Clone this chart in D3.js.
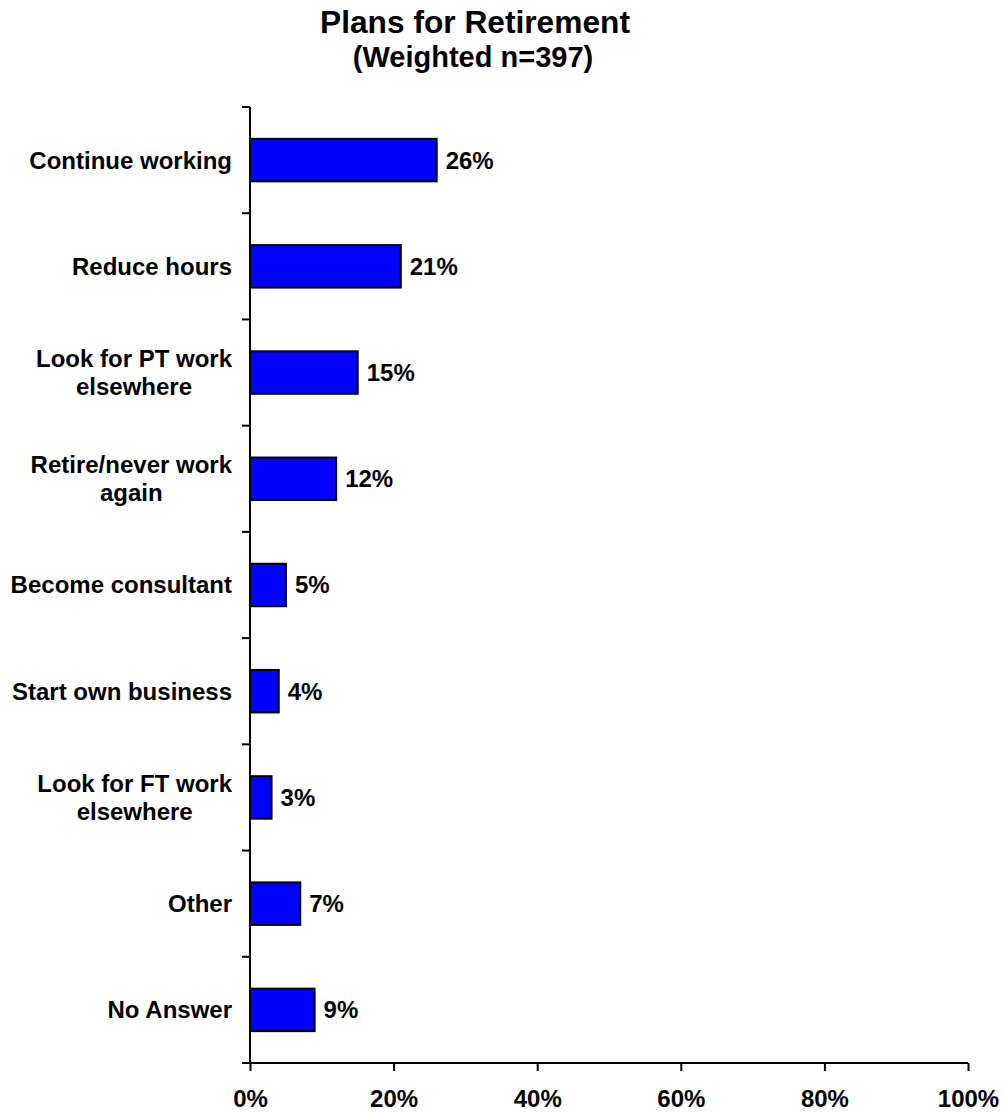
<!DOCTYPE html>
<html>
<head>
<meta charset="utf-8">
<script src="https://cdn.jsdelivr.net/npm/d3@7"></script>
<style>
  body { margin: 0; background: #fff; }
  text { font-family: "Liberation Sans", Arial, sans-serif; font-weight: bold; fill: #000; }
</style>
</head>
<body>
<div id="chart"></div>
<script>
// chart data
const categories = [
    ["Continue working"],
    ["Reduce hours"],
    ["Look for PT work", "elsewhere"],
    ["Retire/never work", "again"],
    ["Become consultant"],
    ["Start own business"],
    ["Look for FT work", "elsewhere"],
    ["Other"],
    ["No Answer"]
];
const values = [26, 21, 15, 12, 5, 4, 3, 7, 9];
const xTicks = [0, 20, 40, 60, 80, 100];

const width = 1003, height = 1112;
const margin = {top: 107, right: 35, bottom: 49, left: 250};

let svg = d3.select("#chart").append("svg")
    .attr("width", width)
    .attr("height", height);

// title
svg.append("text")
    .attr("x", 475).attr("y", 33)
    .attr("text-anchor", "middle")
    .style("font-size", "31.7px")
    .text("Plans for Retirement");
svg.append("text")
    .attr("x", 473).attr("y", 67)
    .attr("text-anchor", "middle")
    .style("font-size", "29px")
    .text("(Weighted n=397)");

let x = d3.scaleLinear()
    .domain([0, 100])
    .range([margin.left, width - margin.right]);

let y = d3.scaleBand()
    .domain(d3.range(categories.length))
    .range([margin.top, height - margin.bottom])
    .paddingInner(0.6)
    .paddingOuter(0.3);

let bandStep = y.step();
let plotBottom = height - margin.bottom;

// bars
svg.selectAll("rect.bar")
    .data(values)
    .enter()
    .append("rect")
    .attr("class", "bar")
    .attr("x", x(0))
    .attr("y", (d, i) => y(i))
    .attr("width", d => x(d) - x(0))
    .attr("height", y.bandwidth())
    .attr("fill", "#0000ff")
    .attr("stroke", "#000")
    .attr("stroke-width", 2);

// value labels
svg.selectAll("text.value")
    .data(values)
    .enter()
    .append("text")
    .attr("class", "value")
    .attr("x", d => x(d) + 9)
    .attr("y", (d, i) => y(i) + y.bandwidth() / 2)
    .attr("dy", "0.35em")
    .style("font-size", "24px")
    .text(d => d + "%");

// category labels: block right-aligned, lines centered
categories.forEach((lines, i) => {
    let g = svg.append("g");
    let cy = y(i) + y.bandwidth() / 2;
    let texts = lines.map((line, j) => g.append("text")
        .attr("y", cy + (j - (lines.length - 1) / 2) * 28)
        .attr("dy", "0.35em")
        .attr("text-anchor", "middle")
        .style("font-size", "24px")
        .text(line));
    let maxW = d3.max(texts, t => t.node().getComputedTextLength());
    texts.forEach(t => t.attr("x", 232 - maxW / 2));
});

// y axis with ticks at band boundaries
let yTickPos = d3.range(categories.length + 1).map(i => margin.top + i * bandStep);
svg.append("line")
    .attr("x1", x(0)).attr("x2", x(0))
    .attr("y1", margin.top).attr("y2", plotBottom)
    .attr("stroke", "#000").attr("stroke-width", 2);
svg.selectAll("line.ytick")
    .data(yTickPos)
    .enter()
    .append("line")
    .attr("class", "ytick")
    .attr("x1", x(0) - 8).attr("x2", x(0))
    .attr("y1", d => d).attr("y2", d => d)
    .attr("stroke", "#000").attr("stroke-width", 2);

// x axis
let xAxis = svg.append("g")
    .attr("transform", "translate(0," + plotBottom + ")")
    .call(d3.axisBottom(x)
        .tickValues(xTicks)
        .tickSize(8)
        .tickPadding(0)
        .tickFormat(d => d + "%"));
xAxis.select(".domain").remove();
xAxis.append("line")
    .attr("x1", x(0) - 8).attr("x2", x(100))
    .attr("stroke", "#000").attr("stroke-width", 2);
xAxis.selectAll(".tick line").attr("stroke", "#000").attr("stroke-width", 2);
xAxis.selectAll(".tick text")
    .attr("y", 44)
    .attr("dy", null)
    .style("font-size", "24px")
    .style("font-family", "'Liberation Sans', Arial, sans-serif")
    .style("font-weight", "bold")
    .attr("fill", "#000");
</script>
</body>
</html>
